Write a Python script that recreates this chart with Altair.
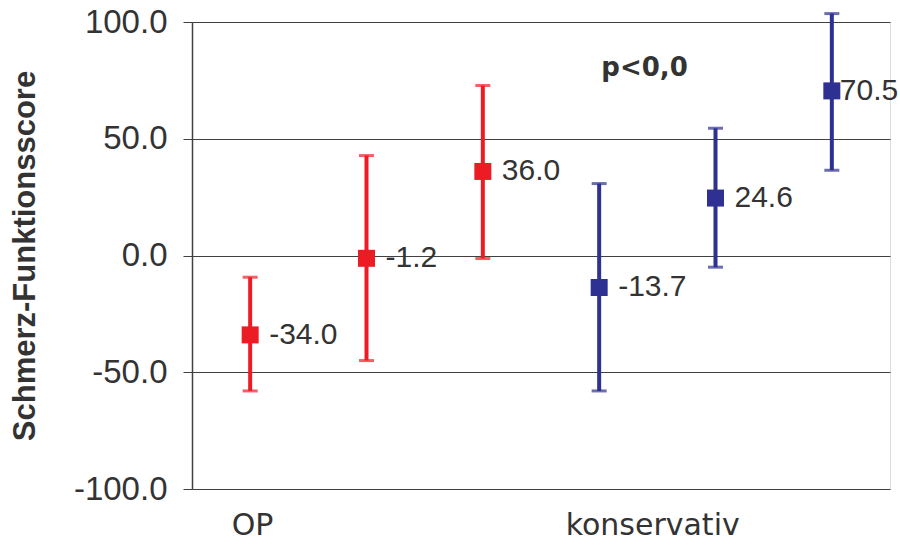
import altair as alt
import pandas as pd

# data
positions = [0.5, 1.5, 2.5, 3.5, 4.5, 5.5]
groups = ["OP", "OP", "OP", "konservativ", "konservativ", "konservativ"]
means = [-34.0, -1.2, 36.0, -13.7, 24.6, 70.5]
lower = [-58.0, -45.0, -1.3, -58.0, -5.0, 36.5]
upper = [-9.3, 42.8, 72.8, 30.8, 54.5, 103.6]
labels = ["-34.0", "-1.2", "36.0", "-13.7", "24.6", "70.5"]

cat_names = ["OP", "konservativ"]
cat_pos = [0.52, 3.96]

annot_text = ["p<0,0"]
annot_x = [3.89]
annot_y = [80.5]

df = pd.DataFrame({"pos": positions, "group": groups, "mean": means,
                   "lo": lower, "hi": upper, "label": labels})
cats = pd.DataFrame({"pos": cat_pos, "name": cat_names, "y": [-100, -100]})
ann = pd.DataFrame({"x": annot_x, "y": annot_y, "t": annot_text})

xs = alt.Scale(domain=[0, 6], nice=False, zero=False)
ys = alt.Scale(domain=[-100, 100], nice=False)
color = alt.Color("group:N", scale=alt.Scale(domain=["OP", "konservativ"],
                                               range=["#ED1C24", "#2E3192"]), legend=None)

base = alt.Chart(df)

err = base.mark_rule(strokeWidth=4, clip=False).encode(
    x=alt.X("pos:Q", scale=xs, axis=None),
    y=alt.Y("lo:Q", scale=ys, axis=alt.Axis(
        values=[-100, -50, 0, 50, 100],
        labelExpr="replace(format(datum.value, '.1f'), '\u2212', '-')",
        title="Schmerz-Funktionsscore",
        labelFont="Liberation Sans", labelFontSize=33, labelColor="#333333",
        titleFont="Liberation Sans", titleFontSize=31, titleFontWeight="bold",
        titleColor="#333333", titlePadding=32, grid=True, gridColor="#404040",
        gridWidth=1, domainColor="#404040", tickColor="#404040", tickSize=9,
        labelPadding=16, domainWidth=1.5)),
    y2="hi:Q",
    color=color,
)
cap_hi = base.mark_tick(thickness=3, size=15, orient="horizontal", clip=False).encode(
    x=alt.X("pos:Q", scale=xs), y=alt.Y("hi:Q", scale=ys), color=color)
cap_lo = base.mark_tick(thickness=3, size=15, orient="horizontal", clip=False).encode(
    x=alt.X("pos:Q", scale=xs), y=alt.Y("lo:Q", scale=ys), color=color)
pts = base.mark_square(size=289, opacity=1, clip=False).encode(
    x=alt.X("pos:Q", scale=xs), y=alt.Y("mean:Q", scale=ys), color=color)
txt = base.transform_filter("datum.pos < 5").mark_text(
    align="left", baseline="middle", dx=19, fontSize=30,
    font="Liberation Sans", color="#333333").encode(
    x=alt.X("pos:Q", scale=xs), y=alt.Y("mean:Q", scale=ys), text="label:N")
txt_last = base.transform_filter("datum.pos >= 5").mark_text(
    align="left", baseline="middle", dx=8, fontSize=30,
    font="Liberation Sans", color="#333333").encode(
    x=alt.X("pos:Q", scale=xs), y=alt.Y("mean:Q", scale=ys), text="label:N")

cat_txt = alt.Chart(cats).mark_text(baseline="middle", dy=37, fontSize=30,
                                    font="DejaVu Sans", color="#333333").encode(
    x=alt.X("pos:Q", scale=xs), y=alt.Y("y:Q", scale=ys), text="name:N")

ann_txt = alt.Chart(ann).mark_text(baseline="middle", fontSize=26, fontWeight="bold",
                                   font="DejaVu Sans", color="#333333").encode(
    x=alt.X("x:Q", scale=xs), y=alt.Y("y:Q", scale=ys), text="t:N")

chart = alt.layer(err, cap_hi, cap_lo, pts, txt, txt_last, cat_txt, ann_txt).properties(
    width=698, height=467,
    autosize=alt.AutoSizeParams(type="none"),
    padding={"left": 192, "top": 22, "right": 10, "bottom": 56},
).configure_view(stroke="#404040", strokeWidth=1.5).configure(background="white")

chart.save("out.html", embed_options={"renderer": "svg", "actions": False})
